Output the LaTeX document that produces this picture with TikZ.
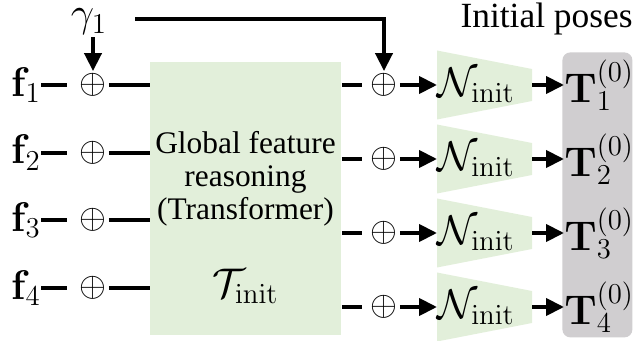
\documentclass[tikz,border=0pt]{standalone}
\usepackage[no-math]{fontspec}
\setmainfont{Liberation Serif}
\usetikzlibrary{arrows.meta,calc}
\definecolor{grn}{RGB}{226,239,218}
\definecolor{gry}{RGB}{208,206,208}
\tikzset{
  ln/.style={line width=2pt},
  arr/.style={line width=2pt,-{Triangle[length=9pt,width=8.5pt]}},
  op/.style={inner sep=1pt,font=\fontsize{17}{20}\selectfont},
  mth/.style={inner sep=1pt,font=\fontsize{21.5}{24}\selectfont},
  txt/.style={inner sep=0pt,align=center,font=\fontsize{15.7}{16.5}\selectfont},
}
\begin{document}
\begin{tikzpicture}[x=0.5pt,y=-0.5pt]
\useasboundingbox (0,0) rectangle (636,341);
% green transformer box
\node[fill=grn,inner sep=0pt,minimum width=95.5pt,minimum height=136.5pt,anchor=north west] (box) at (150,62) {};
\node[txt] (gfr) at (245.5,179) {Global feature\\reasoning\\(Transformer)};
\node[mth] (tinit) at (245.5,286) {$\mathcal{T}_{\mathrm{init}}$};
% grey pose box
\node[fill=gry,rounded corners=4pt,inner sep=0pt,minimum width=35pt,minimum height=142.5pt,anchor=north west] (poses) at (562,52) {};
\node[inner sep=0pt,anchor=base east,font=\fontsize{17.7}{20}\selectfont] (ip) at (633,28) {Initial poses};
% gamma
\node[inner sep=1pt,anchor=base,font=\fontsize{19.5}{22}\selectfont] (gam) at (89,27) {$\gamma_1$};
\coordinate (ts) at (135,19);
% left rows
\foreach \y [count=\i] in {85,152.7,220.3,288} {
  \node[mth,anchor=east,inner sep=0pt] (f\i) at (41,\y) {$\mathbf{f}_{\i}$};
  \node[op] (p\i) at (93,\y) {$\oplus$};
  \draw[ln,shorten >=5pt] (f\i.east) -- (p\i.west);
  \draw[ln] (p\i.east) -- (p\i.east -| box.west);
}
\draw[arr] (gam.south -| p1) -- (p1.north);
% right rows
\foreach \y [count=\i] in {85,159,233,307} {
  \node[op] (q\i) at (384,\y) {$\oplus$};
  \coordinate (tl\i) at (437,\y);
  \coordinate (tr\i) at (532,\y);
  \fill[grn] (437,\y-34.5) -- (532,\y-16) -- (532,\y+16) -- (437,\y+34.5) -- cycle;
  \node[mth,anchor=west,inner sep=0pt] (n\i) at (437,\y) {$\mathcal{N}_{\mathrm{init}}$};
  \node[mth,anchor=west,inner sep=0pt] (t\i) at (564,\y) {$\mathbf{T}_{\i}^{(0)}$};
  \draw[ln,shorten >=3pt] (q\i.west -| box.east) -- (q\i.west);
  \draw[arr] (q\i.east) -- (tl\i);
  \draw[arr] (tr\i) -- (t\i.west);
}
\draw[arr] (ts) -| (q1.north);
\end{tikzpicture}
\end{document}
